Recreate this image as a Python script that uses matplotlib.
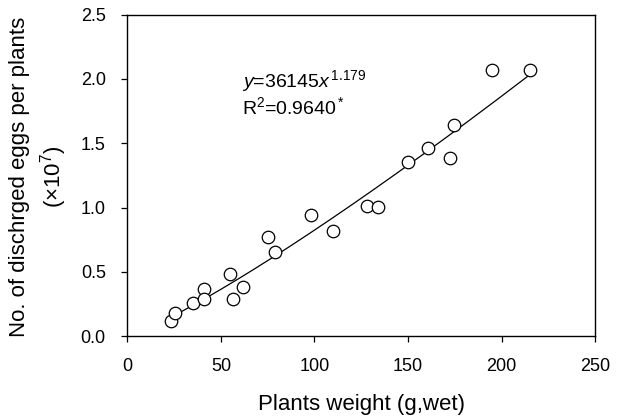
import numpy as np
import matplotlib
matplotlib.use("Agg")
import matplotlib.pyplot as plt

plt.rcParams["font.family"] = ["Liberation Sans", "DejaVu Sans"]
plt.rcParams["mathtext.fontset"] = "custom"
plt.rcParams["mathtext.rm"] = "Liberation Sans"
plt.rcParams["mathtext.it"] = "Liberation Sans:italic"

# data
weight = [23.3, 25.5, 34.9, 41.1, 41.1, 54.9, 56.3, 61.6, 75.2, 78.8,
          98.0, 109.7, 127.9, 133.9, 150.1, 160.5, 172.4, 174.5, 194.7, 215.1]
eggs = [0.12, 0.178, 0.256, 0.365, 0.287, 0.484, 0.287, 0.38, 0.774, 0.656,
        0.942, 0.82, 1.012, 1.007, 1.357, 1.463, 1.388, 1.642, 2.07, 2.07]

coef = 36145
power = 1.179
fit_x = np.linspace(23.0, 215.1, 200)
fit_y = coef * fit_x ** power / 1e7

fig = plt.figure(figsize=(6.24, 4.16), dpi=100)
ax = fig.add_axes([0.204, 0.192, 0.750, 0.773])

ax.plot(fit_x, fit_y, color="black", lw=0.9)
ax.plot(weight, eggs, "o", mfc="white", mec="black", ms=9, mew=0.9)

ax.set_xlim(0, 250)
ax.set_ylim(0, 2.5)
ax.set_xticks(range(0, 251, 50))
ax.set_yticks(np.arange(0, 2.51, 0.5))
ax.yaxis.set_major_formatter(matplotlib.ticker.FormatStrFormatter("%.1f"))
ax.tick_params(direction="out", length=4.5, width=0.9, labelsize=13)
ax.tick_params(axis="x", pad=11)
ax.tick_params(axis="y", pad=11)
for s in ax.spines.values():
    s.set_linewidth(1.0)

ax.set_xlabel("Plants weight (g,wet)", fontsize=16, labelpad=14)
fig.text(0.063, 0.575, "No. of dischrged eggs per plants\n(×10$^7$)",
         fontsize=16, rotation=90, ha="center", va="center",
         multialignment="center", linespacing=1.35)

ax.text(0.245, 0.775, r"$y$=36145$x^{\,1.179}$", transform=ax.transAxes,
        fontsize=14)
ax.text(0.245, 0.69, r"R$^2$=0.9640$^*$", transform=ax.transAxes,
        fontsize=14)

fig.savefig("out.png", dpi=100)
